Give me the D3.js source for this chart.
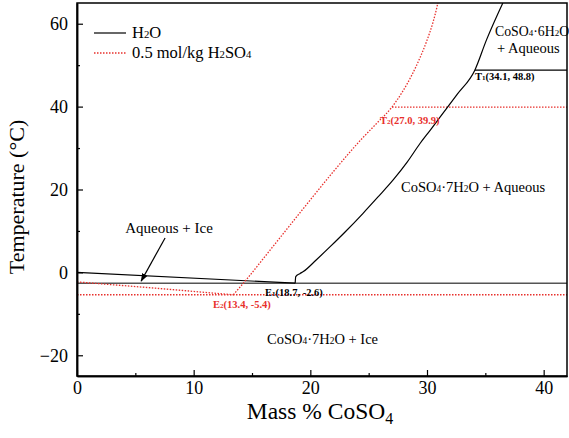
<!DOCTYPE html>
<html>
<head>
<meta charset="utf-8">
<script src="https://cdn.jsdelivr.net/npm/d3@7/dist/d3.min.js"></script>
<style>
  html, body { margin: 0; padding: 0; background: #fff; }
  svg { display: block; font-family: "Liberation Serif", "Times New Roman", serif; }
</style>
</head>
<body>
<svg id="chart" width="569" height="438"></svg>
<script>
// Phase diagram of CoSO4 in water and in 0.5 mol/kg H2SO4

// Axis ticks
const xTicks = [0, 10, 20, 30, 40];
const xMinorTicks = [5, 15, 25, 35];
const yTicks = [-20, 0, 20, 40, 60];
const yMinorTicks = [-10, 10, 30, 50];

// Pure water system: [mass %, temperature °C]
const waterIce = [[0, 0], [18.7, -2.6]];
const waterSalt = [
  [18.7, -2.6], [18.75, -1.0], [19.1, -0.3], [19.4, 0.2], [20.5, 3.0],
  [21.7, 6.2], [23.0, 9.8], [24.5, 14.2], [25.8, 18.2], [27.1, 22.3],
  [28.3, 26.6], [29.4, 31.1], [30.3, 34.4], [31.1, 37.4], [32.6, 43.0],
  [34.1, 48.8], [35.1, 56.1], [36.5, 65.0]
];
const waterEutectic = -2.6;
const waterTransition = 48.8;

// 0.5 mol/kg H2SO4 system
const acidIce = [[0, -2.3], [6.7, -3.8], [13.4, -5.4]];
const acidSalt = [
  [13.4, -5.4], [14.5, -1.8], [16.5, 5.2], [19.4, 15.4], [22.0, 24.4],
  [24.3, 31.9], [25.7, 36.0], [27.0, 39.9], [27.9, 43.6], [28.7, 47.6],
  [29.4, 51.8], [30.0, 56.0], [30.5, 60.2], [30.85, 64.0], [31.0, 66.0]
];
const acidEutectic = -5.4;
const acidTransition = 39.9;

const svg = d3.select("#chart");
const x = d3.scaleLinear().domain([0, 42]).range([77, 567]);
const y = d3.scaleLinear().domain([-25, 65]).range([376, 3]);

const RED = "#e8302c";
const line = d3.line().x(d => x(d[0])).y(d => y(d[1])).curve(d3.curveMonotoneX);
const straight = d3.line().x(d => x(d[0])).y(d => y(d[1]));

const plot = svg.append("g");
plot.append("clipPath").attr("id", "clip")
  .append("rect").attr("x", x(0)).attr("y", y(65)).attr("width", x(42) - x(0)).attr("height", y(-25) - y(65));
const g = plot.append("g").attr("clip-path", "url(#clip)");

// Eutectic and transition isotherms
g.append("line").attr("x1", x(0)).attr("x2", x(42))
  .attr("y1", y(waterEutectic)).attr("y2", y(waterEutectic))
  .attr("stroke", "#555").attr("stroke-width", 1.5);
g.append("line").attr("x1", x(0)).attr("x2", x(42))
  .attr("y1", y(acidEutectic)).attr("y2", y(acidEutectic))
  .attr("stroke", RED).attr("stroke-width", 1.3).attr("stroke-dasharray", "1.5,1.5");
g.append("line").attr("x1", x(34.1)).attr("x2", x(42))
  .attr("y1", y(waterTransition)).attr("y2", y(waterTransition))
  .attr("stroke", "#000").attr("stroke-width", 1.3);
g.append("line").attr("x1", x(27.0)).attr("x2", x(42))
  .attr("y1", y(acidTransition)).attr("y2", y(acidTransition))
  .attr("stroke", RED).attr("stroke-width", 1.3).attr("stroke-dasharray", "1.5,1.5");

// Liquidus curves
g.append("path").attr("d", straight(waterIce)).attr("fill", "none")
  .attr("stroke", "#000").attr("stroke-width", 1.2);
g.append("path").attr("d", line(waterSalt)).attr("fill", "none")
  .attr("stroke", "#000").attr("stroke-width", 1.2);
g.append("path").attr("d", straight(acidIce)).attr("fill", "none")
  .attr("stroke", RED).attr("stroke-width", 1.3).attr("stroke-dasharray", "1.5,1.5");
g.append("path").attr("d", line(acidSalt)).attr("fill", "none")
  .attr("stroke", RED).attr("stroke-width", 1.3).attr("stroke-dasharray", "1.5,1.5");

// Frame
svg.append("rect").attr("x", x(0)).attr("y", y(65)).attr("width", x(42) - x(0)).attr("height", y(-25) - y(65))
  .attr("fill", "none").attr("stroke", "#000").attr("stroke-width", 1.5);

// Axes with inward ticks
svg.append("g").attr("transform", `translate(0,${y(-25)})`)
  .call(d3.axisBottom(x).tickValues(xTicks).tickSizeInner(-6).tickSizeOuter(0).tickPadding(5));
svg.append("g").attr("transform", `translate(0,${y(-25)})`)
  .call(d3.axisBottom(x).tickValues(xMinorTicks).tickSizeInner(-3).tickSizeOuter(0).tickFormat(""));
svg.append("g").attr("transform", `translate(${x(0)},0)`)
  .call(d3.axisLeft(y).tickValues(yTicks).tickSizeInner(-6).tickSizeOuter(0).tickPadding(9));
svg.append("g").attr("transform", `translate(${x(0)},0)`)
  .call(d3.axisLeft(y).tickValues(yMinorTicks).tickSizeInner(-3).tickSizeOuter(0).tickFormat(""));
svg.selectAll(".domain").attr("stroke", "#000").attr("stroke-width", 1.5);
svg.selectAll(".tick line").attr("stroke", "#000").attr("stroke-width", 1.2);
svg.selectAll(".tick text").attr("font-family", "Liberation Serif").attr("font-size", 18).attr("fill", "#000");

// Axis titles
const xt = svg.append("text").attr("x", 320).attr("y", 419).attr("text-anchor", "middle")
  .attr("font-size", 23.5).attr("fill", "#000");
xt.append("tspan").text("Mass % CoSO");
xt.append("tspan").attr("font-size", 16).attr("dy", 5).text("4");
svg.append("text").attr("transform", "translate(24,197) rotate(-90)").attr("text-anchor", "middle")
  .attr("font-size", 22).attr("fill", "#000").text("Temperature (°C)");

// Helper for formulas with small subscripts
function formula(sel, parts, size) {
  parts.forEach(p => {
    if (typeof p === "string") sel.append("tspan").attr("font-size", size).text(p);
    else sel.append("tspan").attr("font-size", size * 0.65).text(p.sub);
  });
}

// Legend
svg.append("line").attr("x1", 94).attr("x2", 126).attr("y1", 33).attr("y2", 33)
  .attr("stroke", "#000").attr("stroke-width", 1.2);
svg.append("line").attr("x1", 94).attr("x2", 126).attr("y1", 53).attr("y2", 53)
  .attr("stroke", RED).attr("stroke-width", 1.3).attr("stroke-dasharray", "1.5,1.5");
formula(svg.append("text").attr("x", 132).attr("y", 38).attr("fill", "#000"), ["H", {sub: "2"}, "O"], 16.5);
formula(svg.append("text").attr("x", 132).attr("y", 58).attr("fill", "#000"),
  ["0.5 mol/kg H", {sub: "2"}, "SO", {sub: "4"}], 16.5);

// Phase region labels
svg.append("text").attr("x", 169).attr("y", 233).attr("text-anchor", "middle")
  .attr("font-size", 15).attr("fill", "#000").text("Aqueous + Ice");
formula(svg.append("text").attr("x", 401).attr("y", 192).attr("fill", "#000"),
  ["CoSO", {sub: "4"}, "·7H", {sub: "2"}, "O + Aqueous"], 14.5);
formula(svg.append("text").attr("x", 267).attr("y", 344).attr("fill", "#000"),
  ["CoSO", {sub: "4"}, "·7H", {sub: "2"}, "O + Ice"], 14.5);
formula(svg.append("text").attr("x", 495).attr("y", 36).attr("fill", "#000"),
  ["CoSO", {sub: "4"}, "·6H", {sub: "2"}, "O"], 13.8);
svg.append("text").attr("x", 497).attr("y", 53).attr("font-size", 14.5).attr("fill", "#000").text("+ Aqueous");

// Arrow pointing at the ice field
svg.append("defs").append("marker").attr("id", "arrow").attr("viewBox", "0 0 10 10")
  .attr("refX", 9).attr("refY", 5).attr("markerWidth", 7).attr("markerHeight", 7).attr("orient", "auto")
  .append("path").attr("d", "M0,1.5 L10,5 L0,8.5 z").attr("fill", "#000");
svg.append("line").attr("x1", x(7.55)).attr("y1", y(8.3)).attr("x2", x(5.5)).attr("y2", y(-2.1))
  .attr("stroke", "#000").attr("stroke-width", 1.2).attr("marker-end", "url(#arrow)");

// Invariant point labels
function pointLabel(px, py, name, sub, vals, color) {
  const t = svg.append("text").attr("x", px).attr("y", py).attr("fill", color)
    .attr("font-weight", "bold").attr("font-size", 10.5);
  t.append("tspan").text(name);
  t.append("tspan").attr("font-size", 7).text(sub);
  t.append("tspan").text(`(${vals[0].toFixed(1)}, ${vals[1].toFixed(1)})`);
}
pointLabel(475, 80, "T", "1", [34.1, 48.8], "#000");
pointLabel(380, 124, "T", "2", [27.0, 39.9], RED);
pointLabel(265, 296, "E", "1", [18.7, -2.6], "#000");
pointLabel(213, 308, "E", "2", [13.4, -5.4], RED);
</script>
</body>
</html>
